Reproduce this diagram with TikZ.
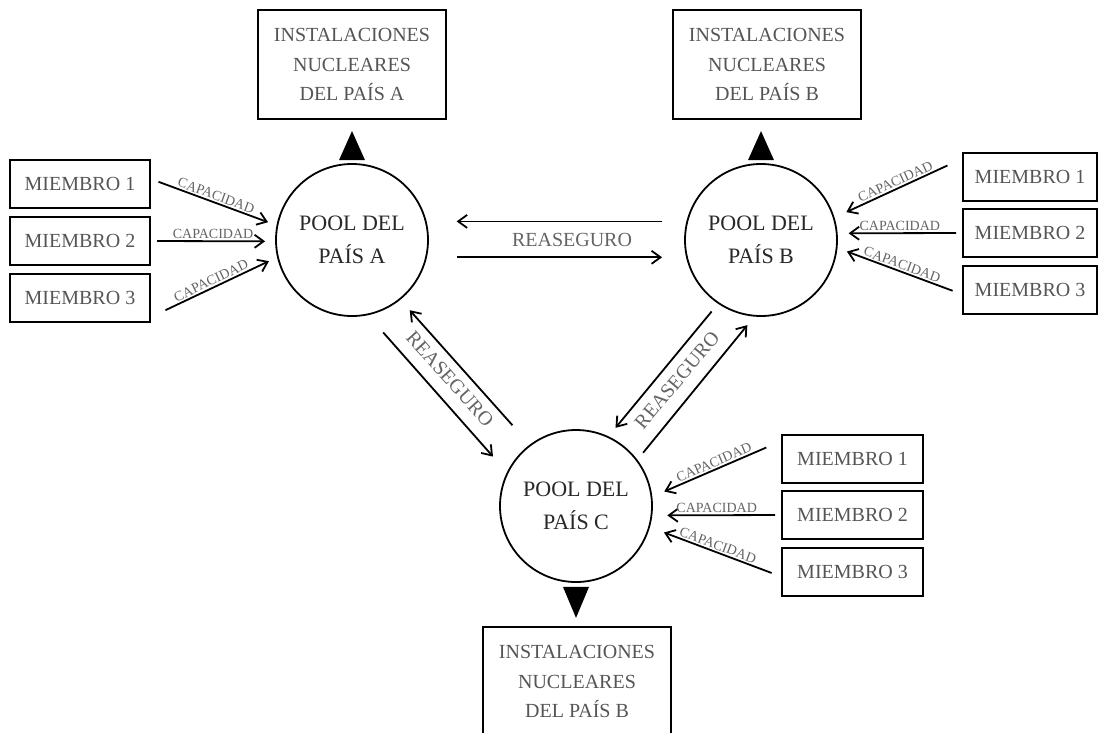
\documentclass[tikz,border=0pt]{standalone}
\usepackage{fontspec}
\setmainfont{Liberation Serif}
\usetikzlibrary{positioning,arrows.meta}
\definecolor{labelgray}{RGB}{100,100,100}
\definecolor{boxgray}{RGB}{85,85,85}
\definecolor{poolgray}{RGB}{40,40,40}

\begin{document}
\begin{tikzpicture}[x=1pt,y=1pt,on grid,line width=1.8pt,
    >={Straight Barb[length=9pt,width=13pt]},
    pool/.style = {draw,circle,minimum size=152pt,inner sep=0pt,align=center,text=poolgray,font=\fontsize{22pt}{33pt}\selectfont},
    plant/.style = {draw,line width=2pt,minimum width=188pt,minimum height=109pt,align=center,text=boxgray,font=\fontsize{20pt}{29.5pt}\selectfont},
    member/.style = {draw,line width=2pt,minimum width=140pt,minimum height=48pt,text=boxgray,font=\fontsize{20pt}{24pt}\selectfont},
    caplabel/.style = {sloped,inner sep=1.5pt,text=labelgray,font=\fontsize{14pt}{16pt}\selectfont},
    reins/.style = {text=labelgray,font=\fontsize{20pt}{24pt}\selectfont},
    marker/.style = {fill=black,line width=0pt}]
    \useasboundingbox (0,0) rectangle (1099,-732);

    \node[pool] (poolA) at (352,-240) {POOL DEL\\PAÍS A};
    \node[pool] (poolB) [right=409pt of poolA] {POOL DEL\\PAÍS B};
    \node[pool] (poolC) [below right=266pt and 224pt of poolA] {POOL DEL\\PAÍS C};

    \node[plant] (plantA) [above=175.5pt of poolA] {INSTALACIONES\\NUCLEARES\\DEL PAÍS A};
    \node[plant] (plantB) [above right=175.5pt and 6pt of poolB] {INSTALACIONES\\NUCLEARES\\DEL PAÍS B};
    \node[plant] (plantC) [below right=175.5pt and 1pt of poolC] {INSTALACIONES\\NUCLEARES\\DEL PAÍS B};

    \node[member] (memA2) [below left=1pt and 272pt of poolA] {MIEMBRO 2};
    \node[member] (memA1) [above=57pt of memA2] {MIEMBRO 1};
    \node[member] (memA3) [below=57pt of memA2] {MIEMBRO 3};
    \node[member,minimum width=134pt] (memB2) [above right=7pt and 269pt of poolB] {MIEMBRO 2};
    \node[member,minimum width=134pt] (memB1) [above=56pt of memB2] {MIEMBRO 1};
    \node[member,minimum width=134pt] (memB3) [below=56.5pt of memB2] {MIEMBRO 3};
    \node[member,minimum width=141pt] (memC2) [below right=9pt and 276.5pt of poolC] {MIEMBRO 2};
    \node[member,minimum width=141pt] (memC1) [above=56pt of memC2] {MIEMBRO 1};
    \node[member,minimum width=141pt] (memC3) [below=56.5pt of memC2] {MIEMBRO 3};

    \node[reins] (reinsAB) [right=220pt of poolA] {REASEGURO};
    \node[reins,rotate=-48] (reinsAC) [below right=139pt and 98pt of poolA] {REASEGURO};
    \node[reins,rotate=50] (reinsBC) [below left=140pt and 84pt of poolB] {REASEGURO};

    \fill[marker] ([yshift=3pt]poolA.north) ++(-13,0) -- ++(26,0) -- ++(-13,29) -- cycle;
    \fill[marker] ([yshift=3pt]poolB.north) ++(-13,0) -- ++(26,0) -- ++(-13,29) -- cycle;
    \fill[marker] ([yshift=-4pt]poolC.south) ++(-13,0) -- ++(26,0) -- ++(-13,-31) -- cycle;

    \path[->]
    (memA1.4) edge[shorten <=8pt,shorten >=9pt] node[caplabel,above] {CAPACIDAD} (poolA.169)
    (memA2.east) edge[shorten <=6pt,shorten >=10pt] node[caplabel,above] {CAPACIDAD} (poolA.181)
    (memA3.-15) edge[shorten <=16pt,shorten >=9pt] node[caplabel,above] {CAPACIDAD} (poolA.193)
    (memB1.165) edge[shorten <=16pt,shorten >=13pt] node[caplabel,above] {CAPACIDAD} (poolB.17)
    (memB2.west) edge[shorten <=6pt,shorten >=11pt] node[caplabel,above] {CAPACIDAD} (poolB.5)
    (memB3.184) edge[shorten <=10pt,shorten >=10pt] node[caplabel,above] {CAPACIDAD} (poolB.-6)
    (memC1.166) edge[shorten <=16pt,shorten >=13pt] node[caplabel,above] {CAPACIDAD} (poolC.7)
    (memC2.west) edge[shorten <=6pt,shorten >=15pt] node[caplabel,above] {CAPACIDAD} (poolC.-7)
    (memC3.184) edge[shorten <=10pt,shorten >=15pt] node[caplabel,above] {CAPACIDAD} (poolC.-16)
    (poolB.166) edge[shorten <=24pt,shorten >=30pt] (poolA.14)
    (poolA.-13) edge[shorten <=30pt,shorten >=24pt] (poolB.193)
    (poolC.127) edge[shorten <=26pt,shorten >=14pt] (poolA.-51)
    (poolA.-78) edge[shorten <=23pt,shorten >=21pt] (poolC.154)
    (poolB.236) edge[shorten <=10pt,shorten >=11pt] (poolC.65)
    (poolC.37) edge[shorten <=9pt,shorten >=11pt] (poolB.265)
    ;
\end{tikzpicture}
\end{document}
